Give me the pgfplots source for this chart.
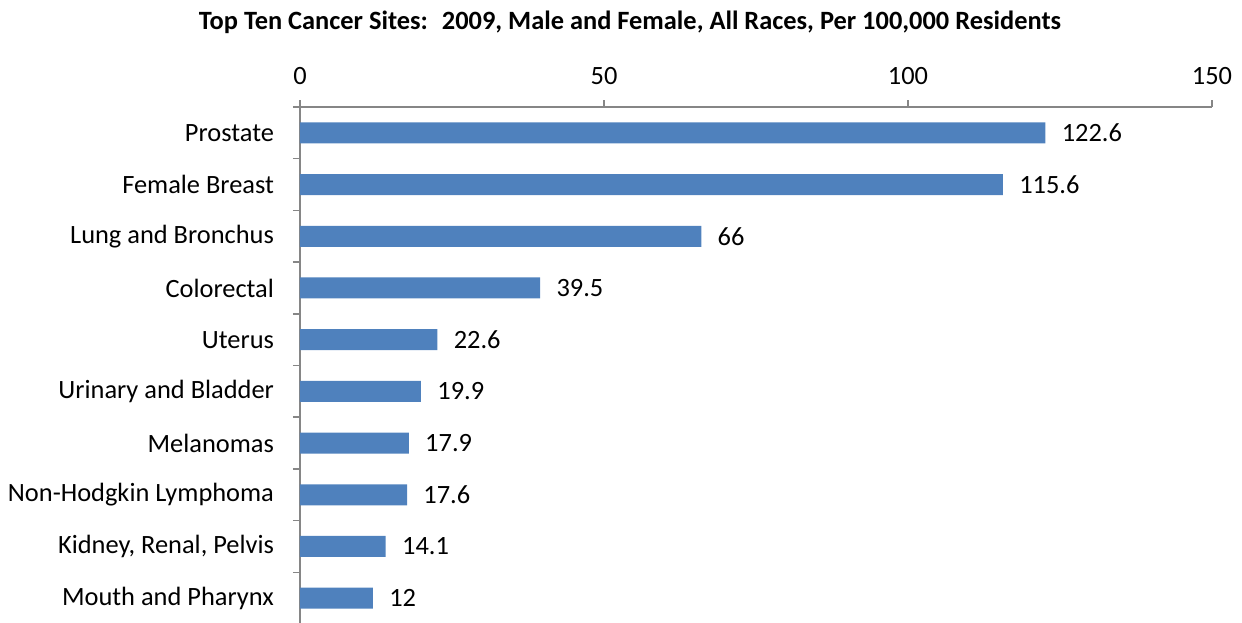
\documentclass[border=0pt]{standalone}
\usepackage{pgfplots}
\pgfplotsset{compat=1.18}
\usepackage{fontspec}
\setmainfont{Carlito}
\definecolor{barblue}{HTML}{4F81BD}
\definecolor{axgray}{HTML}{868686}
\begin{document}
\begin{tikzpicture}
\path[use as bounding box] (0,0) rectangle (621pt,311pt);
\node[font=\fontsize{13.2}{15}\selectfont\bfseries] at (315pt,300pt) {Top Ten Cancer Sites:~ 2009, Male and Female, All Races, Per 100,000 Residents};
\begin{axis}[
  at={(150pt,-1pt)}, anchor=south west,
  scale only axis, width=456pt, height=258.5pt,
  /pgf/number format/assume math mode=true,
  xbar, bar width=10.5pt,
  xmin=0, xmax=150,
  ymin=-0.5, ymax=9.5, y dir=reverse,
  axis x line*=top, axis y line*=left,
  axis line style={axgray, line width=0.75pt},
  xtick={0,50,100,150},
  tick align=outside,
  major tick length=3.5pt,
  minor tick length=3.5pt,
  every tick/.style={axgray, line width=0.75pt},
  ytick={0,...,9},
  major y tick style={draw=none},
  minor y tick style={draw=axgray, line width=0.75pt},
  minor ytick={-0.5,0.5,...,9.5},
  yticklabels={Prostate,Female Breast,Lung and Bronchus,Colorectal,Uterus,Urinary and Bladder,Melanomas,Non-Hodgkin Lymphoma,Kidney{,} Renal{,} Pelvis,Mouth and Pharynx},
  ticklabel style={font=\fontsize{13.2}{15}\selectfont, black},
  yticklabel style={xshift=-6pt},
  xticklabel style={yshift=4pt},
  nodes near coords,
  every node near coord/.append style={anchor=west, inner sep=0pt, xshift=8pt, font=\fontsize{13.2}{15}\selectfont, black},
]
\addplot[fill=barblue, draw=none] coordinates {
(122.6,0) (115.6,1) (66,2) (39.5,3) (22.6,4) (19.9,5) (17.9,6) (17.6,7) (14.1,8) (12,9)
};
\end{axis}
\end{tikzpicture}
\end{document}
